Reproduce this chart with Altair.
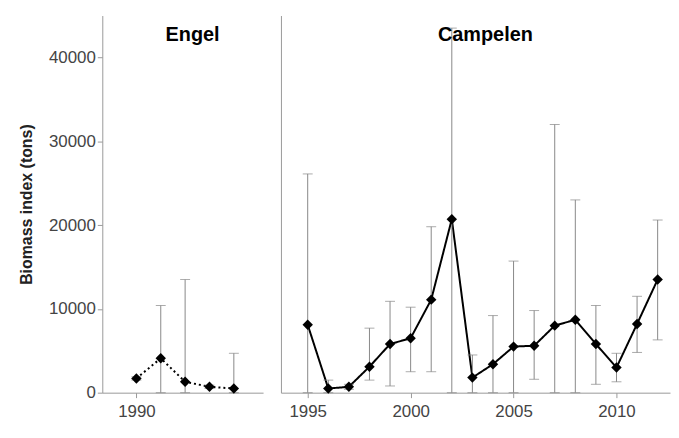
import altair as alt
import pandas as pd

engel_years = [1990, 1991, 1992, 1993, 1994]
engel_vals = [1700, 4100, 1300, 700, 500]
engel_hi = [1900, 10400, 13500, 900, 4700]
engel_lo = [1500, 0, 0, 500, 0]

camp_years = list(range(1995, 2013))
camp_vals = [8100, 500, 700, 3100, 5800, 6500, 11100, 20700, 1800, 3400,
             5500, 5600, 8000, 8700, 5800, 3000, 8200, 13500]
camp_hi = [26100, 1500, 1000, 7700, 10900, 10200, 19800, 43500, 4500, 9200,
           15700, 9800, 32000, 23000, 10400, 4700, 11500, 20600]
camp_lo = [0, 0, 400, 1500, 800, 2500, 2500, 0, 0, 0,
           0, 1600, 0, 0, 1000, 1300, 4800, 6300]

FONT = "Liberation Sans"
H = 380


def panel(years, vals, hi, lo, name, domain, ticks, width, dash, show_y):
    df = pd.DataFrame({"year": years, "v": vals, "hi": hi, "lo": lo})
    x = alt.X("year:Q", scale=alt.Scale(domain=domain, nice=False, zero=False),
              axis=alt.Axis(values=ticks, format="d", title=None, grid=False,
                            labelFontSize=17, labelColor="#444", domainColor="#999",
                            tickColor="#999", labelPadding=6))
    yaxis = alt.Axis(values=[0, 10000, 20000, 30000, 40000], grid=False, format="d",
                     title="Biomass index (tons)" if show_y else None,
                     labels=show_y, ticks=show_y, labelFontSize=17, labelColor="#444",
                     titleFontSize=16, titleFontWeight="bold", titleColor="#222",
                     domainColor="#999", tickColor="#999", titlePadding=14)
    y = alt.Y("v:Q", scale=alt.Scale(domain=[0, 45000], nice=False), axis=yaxis)
    base = alt.Chart(df)
    err = base.mark_rule(color="#888", strokeWidth=1).encode(x="year:Q", y="lo:Q", y2="hi:Q")
    cap_hi = base.mark_tick(color="#888", size=10, thickness=1, orient="horizontal").encode(x="year:Q", y="hi:Q")
    cap_lo = base.mark_tick(color="#888", size=10, thickness=1, orient="horizontal").encode(x="year:Q", y="lo:Q")
    line = base.mark_line(color="black", strokeWidth=2, strokeDash=dash).encode(x=x, y=y)
    pts = base.mark_point(shape="diamond", filled=True, color="black", size=110, opacity=1).encode(x="year:Q", y="v:Q")
    label = alt.Chart(pd.DataFrame({"t": [name]})).mark_text(
        font=FONT, fontSize=20, fontWeight="bold", color="black"
    ).encode(text="t:N", x=alt.value(width / 2 + 10), y=alt.value(20))
    return (alt.layer(line, err, cap_hi, cap_lo, pts, label)
            .properties(width=width, height=H, view=alt.ViewBackground(stroke="transparent")))


left = panel(engel_years, engel_vals, engel_hi, engel_lo, "Engel",
             [1988.6, 1995.2], [1990], 162, [2, 3], True)
right = panel(camp_years, camp_vals, camp_hi, camp_lo, "Campelen",
              [1993.7, 2012.6], [1995, 2000, 2005, 2010], 392, [1, 0], False)

chart = (alt.hconcat(left, right, spacing=16)
         .configure_view(stroke="transparent")
         .configure(font=FONT, padding={"left": 10, "top": 5, "right": 0, "bottom": 5}))
chart.save("out.html", embed_options={"renderer": "svg", "actions": False})
